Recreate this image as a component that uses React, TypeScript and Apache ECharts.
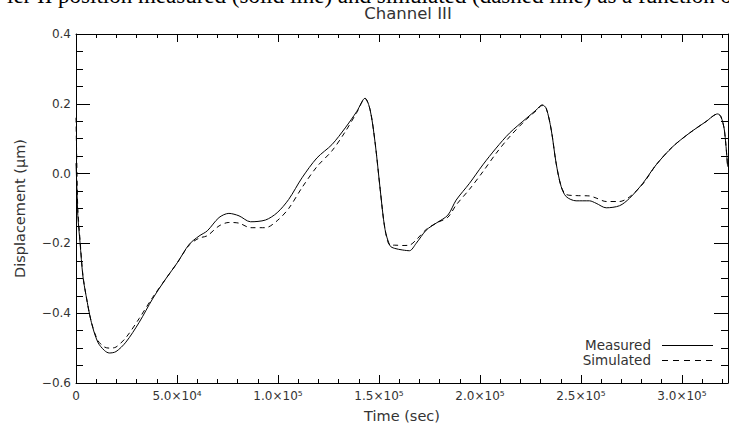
import React, { useEffect, useRef } from "react";
import * as echarts from "echarts";

const timeSec = [
  0, 500, 900, 2000, 3400, 5000, 7600, 10800, 14100, 16500, 19800, 24700, 31300, 37900, 44400,
  50200, 56000, 60900, 65000, 70800, 75700, 80700, 86400, 93800, 99600, 105300, 111900, 119300,
  126700, 133300, 139000, 143100, 145600, 148100, 150600, 153000, 155500, 157600, 161800, 165100,
  168400, 173400, 178300, 184100, 188200, 194800, 201400, 208000, 214600, 222900, 227800, 230800,
  232800, 235300, 237700, 240200, 242700, 247600, 254200, 257500, 262500, 269100, 274000, 280600,
  287200, 295400, 303700, 311900, 317700, 319300, 321000, 322600,
];

const measured = [
  0.03, -0.05, -0.12, -0.198, -0.293, -0.35, -0.426, -0.483, -0.507, -0.514, -0.51, -0.483, -0.426,
  -0.359, -0.302, -0.255, -0.203, -0.179, -0.164, -0.126, -0.114, -0.121, -0.138, -0.133, -0.112,
  -0.074, -0.012, 0.045, 0.083, 0.131, 0.178, 0.216, 0.183, 0.088, -0.045, -0.16, -0.207, -0.214,
  -0.219, -0.221, -0.2, -0.162, -0.142, -0.119, -0.076, -0.028, 0.025, 0.073, 0.116, 0.158, 0.182,
  0.197, 0.187, 0.125, 0.03, -0.037, -0.066, -0.078, -0.078, -0.085, -0.098, -0.092, -0.071,
  -0.028, 0.025, 0.077, 0.116, 0.149, 0.171, 0.163, 0.125, 0.02,
];

const simulated = [
  0.16, 0.0, -0.1, -0.19, -0.29, -0.35, -0.425, -0.478, -0.497, -0.5, -0.497, -0.47, -0.415,
  -0.355, -0.302, -0.255, -0.205, -0.185, -0.178, -0.15, -0.14, -0.142, -0.155, -0.155, -0.135,
  -0.1, -0.04, 0.02, 0.065, 0.12, 0.175, 0.215, 0.183, 0.088, -0.045, -0.16, -0.205, -0.205,
  -0.206, -0.205, -0.19, -0.16, -0.142, -0.125, -0.09, -0.045, 0.005, 0.058, 0.105, 0.155, 0.18,
  0.195, 0.187, 0.125, 0.03, -0.037, -0.06, -0.063, -0.064, -0.07, -0.08, -0.08, -0.067, -0.03,
  0.025, 0.077, 0.116, 0.149, 0.171, 0.163, 0.125, 0.02,
];

const xTickLabels = ["0", "5.0×10⁴", "1.0×10⁵", "1.5×10⁵", "2.0×10⁵", "2.5×10⁵", "3.0×10⁵"];
const yTickLabels = ["−0.6", "−0.4", "−0.2", "0.0", "0.2", "0.4"];
const legendNames = ["Measured", "Simulated"];
const caption =
  "ier II position measured (solid line) and simulated (dashed line) as a function of";

const FONT = "DejaVu Sans";
const TXT = "#333";

export default function App() {
  const ref = useRef<HTMLDivElement>(null);
  useEffect(() => {
    if (!ref.current) return;
    const chart = echarts.init(ref.current, undefined, { renderer: "svg" });
    const xMin = 0, xMax = 322800, xInt = 50000;
    const yMin = -0.6, yMax = 0.4, yInt = 0.2;
    const xLabel = (v: number) => {
      const i = Math.round(v / xInt);
      return Math.abs(v - i * xInt) < 1 && xTickLabels[i] !== undefined ? xTickLabels[i] : "";
    };
    const yLabel = (v: number) => {
      const i = Math.round((v - yMin) / yInt);
      return yTickLabels[i] ?? "";
    };
    const axisLine = { show: true, onZero: false, lineStyle: { color: "#000", width: 1 } };
    const xTick = { show: true, inside: true, length: 8, lineStyle: { color: "#000" } };
    const xMinor = { show: true, splitNumber: 5, length: 4, lineStyle: { color: "#000" } };
    const yTick = { show: true, inside: true, length: 14, lineStyle: { color: "#000" } };
    const yMinor = { show: true, splitNumber: 4, length: 7, lineStyle: { color: "#000" } };
    const toPairs = (ys: number[]) => timeSec.map((t, i) => [t, ys[i]]);

    const legendItems: any[] = [];
    legendNames.forEach((name, i) => {
      const y = 345 + i * 15;
      legendItems.push({
        type: "text",
        x: 651,
        y,
        style: {
          text: name,
          align: "right",
          verticalAlign: "middle",
          font: `13.5px "${FONT}"`,
          fill: TXT,
        },
      });
      legendItems.push({
        type: "line",
        shape: { x1: 662, y1: y + 0.5, x2: 713, y2: y + 0.5 },
        style: { stroke: "#000", lineWidth: 1, lineDash: i === 0 ? null : [6, 5] },
      });
    });

    chart.setOption({
      animation: false,
      backgroundColor: "#fff",
      title: {
        text: "Channel III",
        left: 403,
        top: 0,
        textAlign: "center",
        textStyle: { fontFamily: FONT, fontSize: 16.5, fontWeight: "normal", color: TXT },
      },
      graphic: [
        {
          type: "text",
          x: 7,
          y: -16,
          style: {
            text: caption,
            font: '23px "Liberation Serif"',
            fill: "#000",
          },
        },
        ...legendItems,
      ],
      grid: { left: 76, right: 1, top: 34, bottom: 48 },
      xAxis: [
        {
          type: "value",
          min: xMin,
          max: xMax,
          interval: xInt,
          position: "bottom",
          name: "Time (sec)",
          nameLocation: "middle",
          nameGap: 25,
          nameTextStyle: { fontFamily: FONT, fontSize: 14.5, color: TXT },
          axisLine,
          axisTick: xTick,
          minorTick: xMinor,
          splitLine: { show: false },
          axisLabel: {
            formatter: xLabel,
            showMaxLabel: false,
            margin: 7,
            fontFamily: FONT,
            fontSize: 12,
            color: TXT,
          },
        },
        {
          type: "value",
          min: xMin,
          max: xMax,
          interval: xInt,
          position: "top",
          axisLine,
          axisTick: xTick,
          minorTick: xMinor,
          splitLine: { show: false },
          axisLabel: { show: false },
        },
      ],
      yAxis: [
        {
          type: "value",
          min: yMin,
          max: yMax,
          interval: yInt,
          position: "left",
          name: "Displacement (μm)",
          nameLocation: "middle",
          nameGap: 49,
          nameTextStyle: { fontFamily: FONT, fontSize: 14.5, color: TXT },
          axisLine,
          axisTick: yTick,
          minorTick: yMinor,
          splitLine: { show: false },
          axisLabel: { formatter: yLabel, margin: 5, fontFamily: FONT, fontSize: 12, color: TXT },
        },
        {
          type: "value",
          min: yMin,
          max: yMax,
          interval: yInt,
          position: "right",
          axisLine,
          axisTick: yTick,
          minorTick: yMinor,
          splitLine: { show: false },
          axisLabel: { show: false },
        },
      ],
      series: [
        {
          name: "Measured",
          type: "line",
          xAxisIndex: 0,
          yAxisIndex: 0,
          data: toPairs(measured),
          smooth: 0.3,
          symbol: "none",
          lineStyle: { color: "#000", width: 1, type: "solid" },
        },
        {
          name: "Simulated",
          type: "line",
          xAxisIndex: 0,
          yAxisIndex: 0,
          data: toPairs(simulated),
          smooth: 0.3,
          symbol: "none",
          lineStyle: { color: "#000", width: 1, type: [5, 4] },
        },
      ],
    });
    return () => chart.dispose();
  }, []);
  return (
    <div
      ref={ref}
      style={{ position: "fixed", left: 0, top: 0, width: 729, height: 431, background: "#fff" }}
    />
  );
}
